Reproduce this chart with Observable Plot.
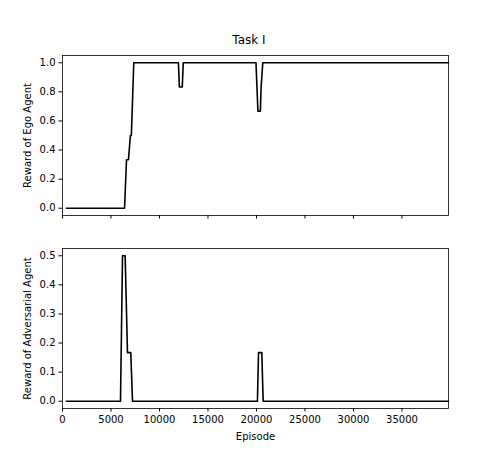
<!DOCTYPE html>
<html><head><meta charset="utf-8">
<script src="https://cdn.jsdelivr.net/npm/d3@7"></script>
<script src="https://cdn.jsdelivr.net/npm/@observablehq/plot@0.6"></script>
<style>
body{margin:0;background:#fff;}
#c{position:relative;width:498px;height:460px;font-family:"DejaVu Sans",sans-serif;color:#000;background:#fff;overflow:hidden;}
#c > *{position:absolute;left:0;}
.title{font-size:12px;width:498px;text-align:center;}
</style>
</head><body><div id="c"></div>
<script>
const chartTitle = "Task I";
const xLabel = "Episode";
const egoLabel = "Reward of Ego Agent";
const advLabel = "Reward of Adversarial Agent";

const egoEpisodes = [400, 6400, 6600, 6800, 7000, 7100, 7350, 11950, 12050, 12350, 12450, 19950, 20050, 20150, 20400, 20480, 20650, 39800];
const egoReward   = [0,   0,    0.333, 0.333, 0.5, 0.5, 1,    1,     0.833, 0.833, 1,     1,     0.833, 0.667, 0.667, 0.833, 1,     1];

const advEpisodes = [400, 5980, 6190, 6460, 6700, 7040, 7220, 20100, 20210, 20550, 20690, 39800];
const advReward   = [0,   0,    0.5,  0.5,  0.167, 0.167, 0,  0,     0.167, 0.167, 0,     0];

const xTicks = [0, 5000, 10000, 15000, 20000, 25000, 30000, 35000];
const egoTicks = [0, 0.2, 0.4, 0.6, 0.8, 1.0];
const advTicks = [0, 0.1, 0.2, 0.3, 0.4, 0.5];

const ego = egoEpisodes.map((e, i) => ({episode: e, reward: egoReward[i]}));
const adv = advEpisodes.map((e, i) => ({episode: e, reward: advReward[i]}));

const plotStyle = {fontFamily: "DejaVu Sans, sans-serif", fontSize: "10px", color: "black", background: "white", overflow: "visible"};
const xDomain = [0, 39800];

const topPlot = Plot.plot({
  width: 498, height: 240,
  marginLeft: 62, marginRight: 50, marginTop: 55, marginBottom: 25,
  style: plotStyle,
  x: {domain: xDomain, ticks: xTicks, tickSize: 3.5, tickFormat: () => "", label: null},
  y: {domain: [-0.05, 1.05], ticks: egoTicks, tickSize: 3.5, tickPadding: 3.5, tickFormat: d3.format(".1f"),
      label: egoLabel, labelAnchor: "center", labelOffset: 39, labelArrow: "none"},
  marks: [
    Plot.frame({stroke: "black", strokeWidth: 0.8}),
    Plot.line(ego, {x: "episode", y: "reward", stroke: "black", strokeWidth: 1.6})
  ]
});
topPlot.style.top = "0px";

const bottomPlot = Plot.plot({
  width: 498, height: 220,
  marginLeft: 62, marginRight: 50, marginTop: 8, marginBottom: 52,
  style: plotStyle,
  x: {domain: xDomain, ticks: xTicks, tickSize: 3.5, tickPadding: 3.5, tickFormat: d3.format("d"),
      label: xLabel, labelAnchor: "center", labelOffset: 31, labelArrow: "none"},
  y: {domain: [-0.025, 0.525], ticks: advTicks, tickSize: 3.5, tickPadding: 3.5, tickFormat: d3.format(".1f"),
      label: advLabel, labelAnchor: "center", labelOffset: 39, labelArrow: "none"},
  marks: [
    Plot.frame({stroke: "black", strokeWidth: 0.8}),
    Plot.line(adv, {x: "episode", y: "reward", stroke: "black", strokeWidth: 1.6})
  ]
});
bottomPlot.style.top = "240px";

const titleDiv = document.createElement("div");
titleDiv.className = "title";
titleDiv.textContent = chartTitle;
titleDiv.style.top = "33px";

const container = document.getElementById("c");
container.appendChild(topPlot);
container.appendChild(bottomPlot);
container.appendChild(titleDiv);
</script>
</body></html>
